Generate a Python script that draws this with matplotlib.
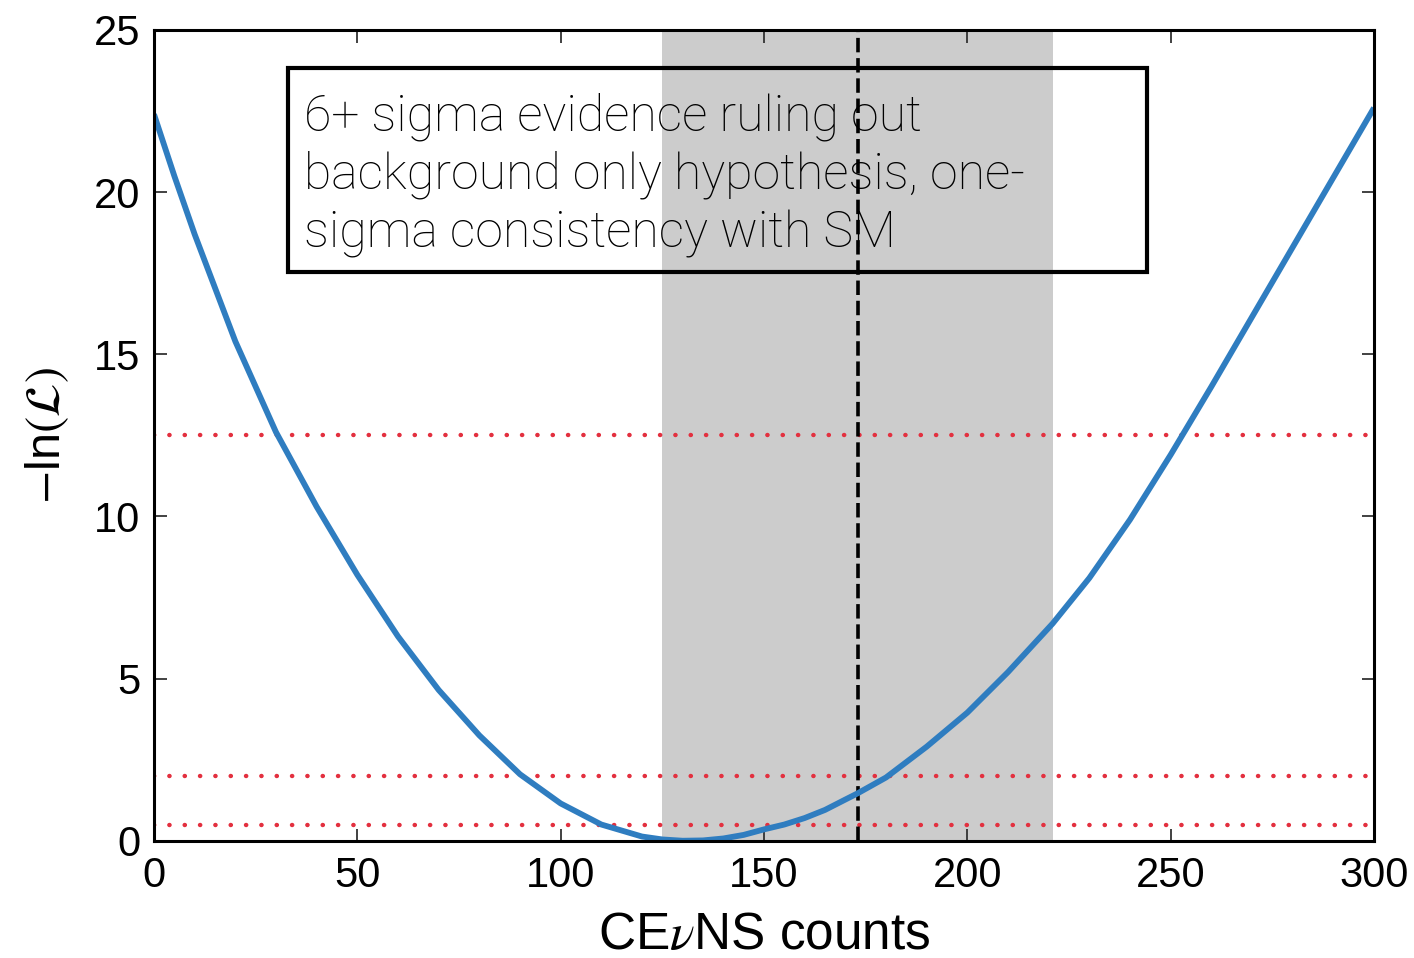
import matplotlib
matplotlib.use("Agg")
import matplotlib.pyplot as plt
from matplotlib.patches import Rectangle

# Profile of -ln(L) versus the number of CEvNS counts
counts = [0, 5, 10, 20, 30, 40, 50, 60, 70, 80, 90, 100, 110, 120, 125,
          130, 135, 140, 145, 150, 155, 160, 165, 170, 173, 180, 190, 200,
          210, 221, 230, 240, 250, 260, 270, 280, 290, 300]
neg_log_like = [22.4, 20.5, 18.7, 15.4, 12.6, 10.3, 8.2, 6.3, 4.65, 3.25,
                2.05, 1.15, 0.5, 0.13, 0.04, 0.0, 0.01, 0.07, 0.18, 0.35,
                0.5, 0.7, 0.95, 1.27, 1.46, 1.95, 2.9, 3.95, 5.2, 6.7,
                8.1, 9.9, 11.9, 14.0, 16.15, 18.3, 20.45, 22.6]

# 1-sigma interval on the fitted counts and the SM prediction
interval = (125, 221)
sm_prediction = 173
# Reference levels of -ln(L)
levels = [0.5, 2.0, 12.5]

x_ticks = [0, 50, 100, 150, 200, 250, 300]
y_ticks = [0, 5, 10, 15, 20, 25]

note_lines = ["6+ sigma evidence ruling out",
              "background only hypothesis, one-",
              "sigma consistency with SM"]

plt.rcParams["font.family"] = ["Liberation Sans", "DejaVu Sans"]
plt.rcParams["mathtext.fontset"] = "stix"

fig = plt.figure(figsize=(14.14, 9.58), dpi=100)
ax = fig.add_axes([0.1089, 0.1224, 0.8628, 0.8463])

ax.axvspan(interval[0], interval[1], color="#cccccc", lw=0, zorder=1)
for lv in levels:
    ax.axhline(lv, color="#e3303f", lw=3.2, linestyle=(0, (0.05, 3.4)),
               dash_capstyle="round", zorder=2)
ax.axvline(sm_prediction, color="black", lw=2.6,
           linestyle=(0, (4.0, 1.6)), zorder=3)
ax.plot(counts, neg_log_like, color="#2f7dc0", lw=4.2,
        solid_capstyle="butt", solid_joinstyle="round", zorder=4)

ax.set_xlim(0, 300)
ax.set_ylim(0, 25)
ax.set_xticks(x_ticks)
ax.set_yticks(y_ticks)
ax.tick_params(direction="in", length=9, width=1.3, top=True, right=True,
               labelsize=30, color="#333333")
ax.tick_params(axis="x", pad=11)
ax.tick_params(axis="y", pad=10)
for s in ax.spines.values():
    s.set_linewidth(2.2)
    s.set_zorder(6)

ax.set_xlabel(r"CE$\nu$NS counts", fontsize=37, labelpad=11)
ax.set_ylabel(r"$-$ln$(\mathcal{L})$", fontsize=35, labelpad=16)

# Annotation box with transparent fill
box = Rectangle((32.9, 17.54), 244.2 - 32.9, 23.83 - 17.54,
                facecolor="none", edgecolor="black", lw=3.0, zorder=5)
ax.add_patch(box)
for i, line in enumerate(note_lines):
    ax.text(37.0, 21.9 - i * 1.8, line, fontsize=36, ha="left",
            va="baseline", color="black", zorder=5,
            family=["Roboto", "Liberation Sans", "DejaVu Sans"],
            fontweight="light")

fig.savefig("out.png", dpi=100)
